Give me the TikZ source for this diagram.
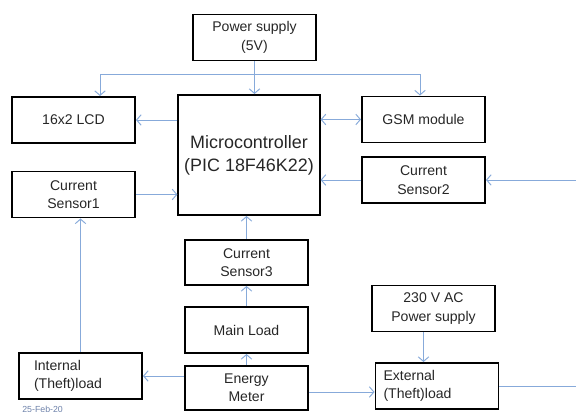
\documentclass[tikz,border=0pt]{standalone}
\usepackage{fontspec}
\setmainfont{Liberation Sans}
\usetikzlibrary{calc,arrows.meta}
\definecolor{wirec}{RGB}{135,170,218}
\definecolor{datec}{RGB}{110,130,170}
\tikzset{
  block/.style={draw, line width=1.1pt, minimum width=2.46cm, minimum height=0.92cm,
    align=center, text=black!85, font=\fontsize{8}{10.5}\selectfont},
  leftblock/.style={block, align=left, inner xsep=0.3cm, text width=1.86cm},
  wire/.style={draw=wirec, line width=0.55pt}
}
\begin{document}
\begin{tikzpicture}[>={Straight Barb[length=2.6pt,width=6pt]}]
    \useasboundingbox (0,0) rectangle (11.52,8.24);
    \node[block] (power) at (5.09,7.49) {Power supply\\(5V)};
    \node[block] (lcd) at (1.47,5.84) {16x2 LCD};
    \node[block, minimum width=2.76cm, minimum height=2.4cm, font=\fontsize{10.2}{13}\selectfont] (micro) at (4.98,5.14) {Microcontroller\\(PIC 18F46K22)};
    \node[block] (gsm) at (8.47,5.85) {GSM module};
    \node[block] (cs1) at (1.47,4.35) {Current\\Sensor1};
    \node[block] (cs2) at (8.47,4.64) {Current\\Sensor2};
    \node[block, minimum height=0.9cm] (cs3) at (4.93,2.99) {Current\\Sensor3};
    \node[block] (mainload) at (4.93,1.64) {Main Load};
    \node[block, minimum height=0.88cm] (meter) at (4.93,0.48) {Energy\\Meter};
    \node[leftblock] (internal) at (1.61,0.72) {Internal\\(Theft)load};
    \node[block] (ac) at (8.67,2.07) {230 V AC\\Power supply};
    \node[leftblock, inner xsep=0.16cm, text width=2.14cm] (external) at (8.74,0.52) {External\\(Theft)load};
    \node[anchor=north west, inner sep=0, text=datec, font=\fontsize{5}{6}\selectfont] (date) at (0.44,0.12) {25-Feb-20};
    \coordinate (busL) at (2.0,6.76);
    \coordinate (busR) at (8.4,6.76);
    \coordinate (edge) at (11.52,0);
    \draw[wire, ->] (power.south) -- (power.south |- micro.north);
    \draw[wire, <->] (busL |- lcd.north) -- (busL) -- (busR) -- (busR |- gsm.north);
    \draw[wire, ->] (micro.west |- lcd.east) -- (lcd.east);
    \draw[wire, <->] (micro.east |- gsm.west) -- (gsm.west);
    \draw[wire, ->] (cs1.east) -- (cs1.east -| micro.west);
    \draw[wire, ->] (cs2.west) -- (cs2.west -| micro.east);
    \draw[wire, ->] (edge |- cs2.east) -- (cs2.east);
    \draw[wire, ->] (cs3.north) -- (cs3.north |- micro.south);
    \draw[wire, ->] (mainload.north) -- (cs3.south);
    \draw[wire, ->] (meter.north) -- (mainload.south);
    \draw[wire, ->] (meter.west |- internal.east) -- (internal.east);
    \draw[wire, ->] (internal.north) -- (internal.north |- cs1.south);
    \draw[wire, ->] ([yshift=-0.08cm]meter.east) -- ([yshift=-0.08cm]meter.east -| external.west);
    \draw[wire, ->] ([xshift=-0.2cm]ac.south) -- ([xshift=-0.2cm]ac.south |- external.north);
    \draw[wire] (external.east) -- (external.east -| edge);
\end{tikzpicture}
\end{document}
